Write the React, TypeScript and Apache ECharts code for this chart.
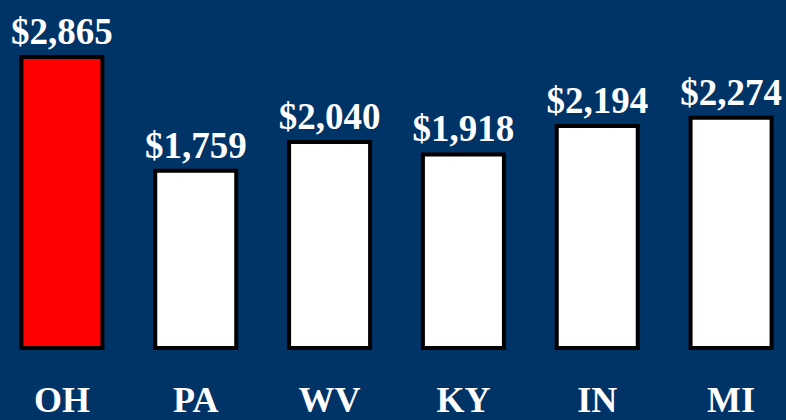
import React, { useEffect, useRef } from "react";
import * as echarts from "echarts";

const categories = ["OH", "PA", "WV", "KY", "IN", "MI"];
const values = [2865, 1759, 2040, 1918, 2194, 2274];
const barColors = ["#FF0000", "#FFFFFF", "#FFFFFF", "#FFFFFF", "#FFFFFF", "#FFFFFF"];

export default function App() {
  const ref = useRef<HTMLDivElement>(null);
  useEffect(() => {
    document.body.style.margin = "0";
    const chart = echarts.init(ref.current!, null, { renderer: "svg" });
    chart.setOption({
      animation: false,
      backgroundColor: "#003366",
      grid: { left: 0, right: 0, top: 41, bottom: 70 },
      xAxis: {
        type: "category",
        data: categories,
        axisLine: { show: false },
        axisTick: { show: false },
        axisLabel: {
          color: "#FFFFFF",
          fontFamily: "Liberation Serif",
          fontWeight: "bold",
          fontSize: 36,
          margin: 32,
        },
      },
      yAxis: {
        type: "value",
        min: 0,
        max: 3000,
        show: false,
        splitLine: { show: false },
      },
      series: [
        {
          type: "bar",
          data: values.map((v, i) => ({ value: v, itemStyle: { color: barColors[i] } })),
          barWidth: 85,
          itemStyle: { borderColor: "#000000", borderWidth: 4 },
          label: {
            show: true,
            position: "top",
            distance: 5,
            color: "#FFFFFF",
            fontFamily: "Liberation Serif",
            fontWeight: "bold",
            fontSize: 37,
            formatter: (p: any) => "$" + p.value.toLocaleString("en-US"),
          },
        },
      ],
    });
    return () => chart.dispose();
  }, []);
  return (
    <div style={{ width: 786, height: 420, overflow: "hidden", position: "relative", background: "#003366" }}>
      <div ref={ref} style={{ position: "absolute", left: -5, top: 0, width: 803, height: 420 }} />
    </div>
  );
}
